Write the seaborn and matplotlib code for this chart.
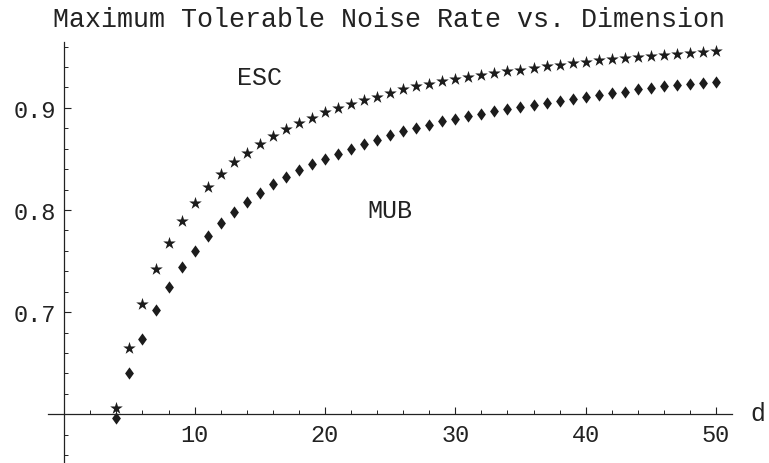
import numpy as np
import pandas as pd
import matplotlib.pyplot as plt
import seaborn as sns

# dimensions d = 4..50
dims = list(range(4, 51))

esc_rate = [0.606, 0.665, 0.708, 0.742, 0.768, 0.789, 0.807, 0.823, 0.835, 0.847,
            0.856, 0.865, 0.872, 0.879, 0.885, 0.890, 0.896, 0.900, 0.904, 0.908,
            0.911, 0.915, 0.918, 0.921, 0.923, 0.926, 0.928, 0.930, 0.932, 0.934,
            0.936, 0.9375, 0.939, 0.941, 0.942, 0.944, 0.945, 0.9465, 0.948, 0.949,
            0.950, 0.951, 0.952, 0.953, 0.954, 0.955, 0.956]

mub_rate = [0.596, 0.640, 0.674, 0.702, 0.725, 0.744, 0.760, 0.775, 0.787, 0.798,
            0.808, 0.817, 0.825, 0.832, 0.839, 0.845, 0.850, 0.855, 0.860, 0.865,
            0.869, 0.873, 0.877, 0.880, 0.883, 0.887, 0.889, 0.892, 0.894, 0.897,
            0.899, 0.901, 0.903, 0.905, 0.907, 0.909, 0.911, 0.913, 0.915, 0.916,
            0.918, 0.919, 0.921, 0.922, 0.923, 0.924, 0.925]

df = pd.DataFrame({'d': dims, 'ESC': esc_rate, 'MUB': mub_rate})

sns.set_style('white')
plt.rcParams['font.family'] = ['Liberation Mono', 'DejaVu Sans Mono']

fig = plt.figure(figsize=(7.69, 4.64), dpi=100)
ax = fig.add_axes([0.0624, 0.0, 0.889, 0.907])

ink = '#1c1c1c'
diamond = [(0, 1), (0.72, 0), (0, -1), (-0.72, 0), (0, 1)]

sns.scatterplot(data=df, x='d', y='ESC', marker='*', s=90, color=ink, linewidth=0, ax=ax)
sns.scatterplot(data=df, x='d', y='MUB', marker=diamond, s=78, color=ink, linewidth=0, ax=ax)

ax.set_xlim(-1.25, 51.2)
ax.set_ylim(0.5524, 0.9643)

# axes crossing at (0, 0.6)
ax.spines['left'].set_position(('data', 0))
ax.spines['bottom'].set_position(('data', 0.6))
ax.spines['top'].set_visible(False)
ax.spines['right'].set_visible(False)
for s in ('left', 'bottom'):
    ax.spines[s].set_color('#222222')
    ax.spines[s].set_linewidth(0.9)

ax.set_xticks([10, 20, 30, 40, 50])
ax.set_xticks(np.arange(2, 51, 2), minor=True)
ax.set_yticks([0.7, 0.8, 0.9])
ax.set_yticks(np.arange(0.56, 0.97, 0.02), minor=True)
ax.set_yticklabels(['0.7', '0.8', '0.9'])
ax.tick_params(axis='both', which='major', direction='in', length=5, width=0.8,
               labelsize=17, colors='#222222')
ax.tick_params(axis='both', which='minor', direction='in', length=3, width=0.7,
               colors='#222222')
ax.tick_params(axis='x', pad=6)
ax.tick_params(axis='y', pad=6)
ax.tick_params(axis='both', left=True, bottom=True, which='both')

ax.set_xlabel('')
ax.set_ylabel('')

ax.text(15, 0.930, 'ESC', fontsize=18, ha='center', va='center', color='#222222')
ax.text(25, 0.800, 'MUB', fontsize=18, ha='center', va='center', color='#222222')
ax.text(53.2, 0.601, 'd', fontsize=18, ha='center', va='center', color='#222222',
        clip_on=False)

fig.text(0.506, 0.957, 'Maximum Tolerable Noise Rate vs. Dimension', fontsize=19.2,
         ha='center', va='center', color='#222222')

fig.savefig('out.png', dpi=100)
